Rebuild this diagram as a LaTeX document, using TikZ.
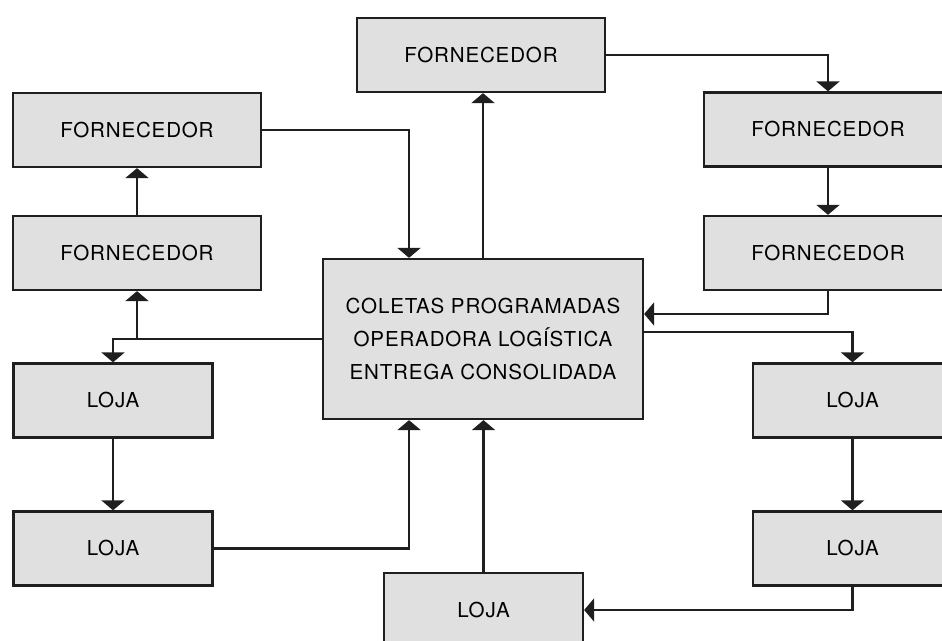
\documentclass[tikz,border=0pt]{standalone}
\usepackage{fontspec}
\setmainfont{TeX Gyre Heros}[LetterSpace=4]
\usetikzlibrary{arrows.meta}

\definecolor{caixacinza}{gray}{0.88}
\definecolor{traco}{gray}{0.12}

\begin{document}
\begin{tikzpicture}[x=0.02cm,y=-0.02cm,node distance=2.96cm,auto,
    >={Triangle[width=0.46cm,length=0.2cm]},
    line width=1.3pt,color=traco,
    caixa/.style={draw=traco,fill=caixacinza,text=black,
      font=\fontsize{11.7}{18.7}\selectfont,
      minimum width=4.96cm,minimum height=1.48cm},
    loja/.style={caixa,minimum width=3.98cm}]
\useasboundingbox (0,0) rectangle (942,641);
\clip (0,0) rectangle (942,641);

% lado esquerdo
\node (F1) [caixa] at (137,130) {FORNECEDOR};
\node (F2) [caixa,below of=F1,node distance=2.46cm] {FORNECEDOR};
\node (L1) [loja] at (113,400.5) {LOJA};
\node (L2) [loja,below of=L1] {LOJA};

% centro
\node (F3) [caixa] at (481,55) {FORNECEDOR};
\node (OL) [caixa,minimum width=6.4cm,minimum height=3.2cm,align=center] at (483,339)
  {COLETAS PROGRAMADAS\\OPERADORA LOGÍSTICA\\ENTREGA CONSOLIDADA};
\node (L5) [loja] at (483.5,610) {LOJA};

% lado direito
\node (F4) [caixa] at (828,129.5) {FORNECEDOR};
\node (F5) [caixa,below of=F4,node distance=2.47cm] {FORNECEDOR};
\node (L3) [loja] at (852.5,400.5) {LOJA};
\node (L4) [loja,below of=L3] {LOJA};

\draw[->] (F1.east) -| ([xshift=-1.48cm]OL.north);
\draw[->] (OL.north) -- (OL.north |- F3.south);
\draw[->] (F3.east) -| (F4.north);
\path[->] (F4) edge (F5);
\draw[->] (F5.south) |- ([yshift=0.5cm]OL.east);
\draw[->] ([yshift=0.14cm]OL.east) -| (L3.north);
\path[->] (L3) edge (L4);
\draw[->] (L4.south) |- (L5.east);
\draw[->] (L5.north) -- (L5.north |- OL.south);

\draw[->] (L2.east) -| ([xshift=-1.48cm]OL.south);
\draw[->] (OL.west) -| (L1.north);
\draw[->] (F2.south |- OL.west) -- (F2.south);
\path[->] (F2) edge (F1);
\path[->] (L1) edge (L2);
\end{tikzpicture}
\end{document}
